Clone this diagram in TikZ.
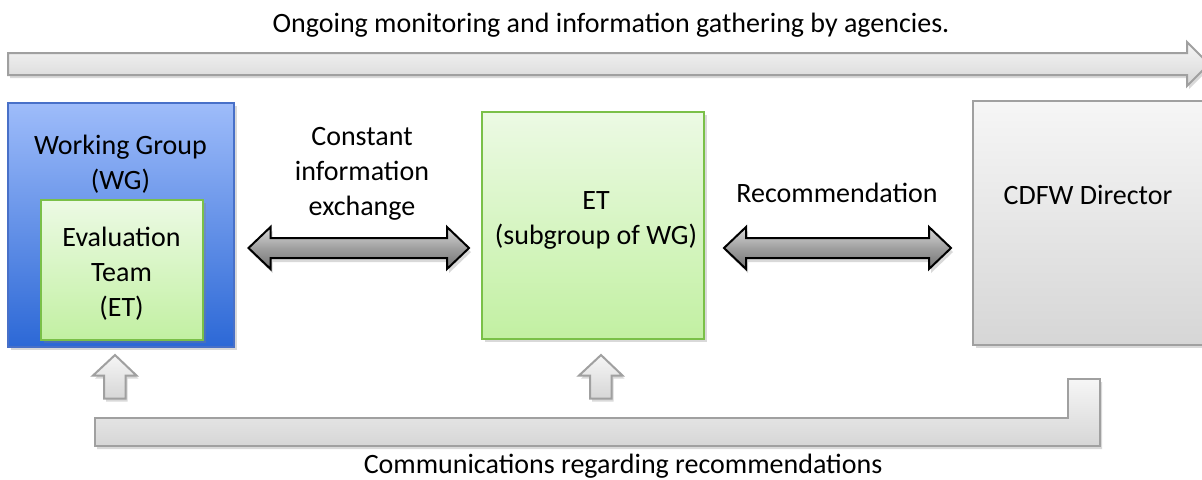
\documentclass[tikz,border=0pt]{standalone}
\usepackage{fontspec}
\setmainfont{Carlito}
\usepackage{xcolor}
\usetikzlibrary{positioning, calc, shadows}

\definecolor{wgtop}{RGB}{158,188,250}
\definecolor{wgbot}{RGB}{44,104,214}
\definecolor{wgline}{RGB}{72,112,200}
\definecolor{ettop}{RGB}{236,250,228}
\definecolor{etbot}{RGB}{194,240,162}
\definecolor{etline}{RGB}{122,192,72}
\definecolor{dirtop}{RGB}{246,246,246}
\definecolor{dirbot}{RGB}{214,214,214}
\definecolor{greyline}{RGB}{160,160,160}

\tikzset{
  txt/.style={font=\fontsize{14}{17.5}\selectfont, align=center, inner sep=0pt},
  box/.style={draw, line width=1pt, inner sep=0pt,
    drop shadow={opacity=0.3, shadow xshift=1.5pt, shadow yshift=-1.5pt}},
  wgbox/.style={box, draw=wgline, top color=wgtop, bottom color=wgbot},
  etbox/.style={box, draw=etline, top color=ettop, bottom color=etbot},
  dirbox/.style={box, draw=greyline, top color=dirtop, bottom color=dirbot},
  bararrow/.style={draw=greyline, line width=1pt, top color=dirtop, bottom color=dirbot,
    drop shadow={opacity=0.3, shadow xshift=1pt, shadow yshift=-1.5pt}},
  dblarrow/.style={draw=black, line width=1pt, top color=gray!30, bottom color=gray!90!black,
    middle color=gray!75,
    drop shadow={opacity=0.3, shadow xshift=1pt, shadow yshift=-2pt}}
}

\begin{document}
\begin{tikzpicture}[x=0.5pt, y=-0.5pt]
  \useasboundingbox (0,0) rectangle (1202,479);
  % Top arrow
  \path[bararrow] (8,53) -- (1187,53) -- (1187,42) -- (1209,64) -- (1187,86)
    -- (1187,75) -- (8,75) -- cycle;
  \node[txt] (toplbl) at (611,25) {Ongoing monitoring and information gathering by agencies.};
  % Boxes
  \node[wgbox, minimum width=113pt, minimum height=122pt] (wg) at (120.5,225) {};
  \node[txt] (wglbl) at ($(wg.north)+(0,62)$) {Working Group\\(WG)};
  \node[etbox, minimum width=81pt, minimum height=70pt] (evt) at (121.5,270) {};
  \node[txt] (evtlbl) at ($(evt.center)+(0,4)$) {Evaluation\\Team\\(ET)};
  \node[etbox, minimum width=111pt, minimum height=113.5pt] (et) at (593,225.5) {};
  \node[txt] (etlbl) at ($(et.center)+(3,-5)$) {ET\\(subgroup of WG)};
  \node[dirbox, minimum width=116pt, minimum height=122pt] (dir) at (1089,223) {};
  \node[txt] (dirlbl) at (1088,195) {CDFW Director};
  % Arrow labels
  \node[txt] (xchg) at (362,174) {Constant\\information\\exchange};
  \node[txt] (rec) at (837,193) {Recommendation};
  % Double arrows
  \coordinate (xa) at ($(wg.east)+(14,23)$);
  \coordinate (xb) at ($(et.west)+(-12,22.5)$);
  \coordinate (ra) at ($(et.east)+(19,22.5)$);
  \coordinate (rb) at ($(dir.west)+(-21,25)$);
  \foreach \a/\b in {xa/xb, ra/rb}
    \path[dblarrow] (\a) -- ($(\a)+(22,-21)$) -- ($(\a)+(22,-10)$) -- ($(\b)+(-22,-10)$)
      -- ($(\b)+(-22,-21)$) -- (\b) -- ($(\b)+(-22,21)$) -- ($(\b)+(-22,10)$)
      -- ($(\a)+(22,10)$) -- ($(\a)+(22,21)$) -- cycle;
  % Bottom bar
  \path[bararrow] (95,418) -- (1068,418) -- (1068,379) -- (1100,379) -- (1100,446)
    -- (95,446) -- cycle;
  % Up arrows
  \coordinate (u1) at ($(wg.south)+(-5.5,7)$);
  \coordinate (u2) at ($(et.south)+(8,15)$);
  \foreach \u in {u1, u2}
    \path[bararrow] (\u) -- ++(21.5,20.5) -- ++(-11,0) -- ++(0,23) -- ++(-21.5,0)
      -- ++(0,-23) -- ++(-11,0) -- cycle;
  \node[txt] (botlbl) at (623,466) {Communications regarding recommendations};
\end{tikzpicture}
\end{document}
